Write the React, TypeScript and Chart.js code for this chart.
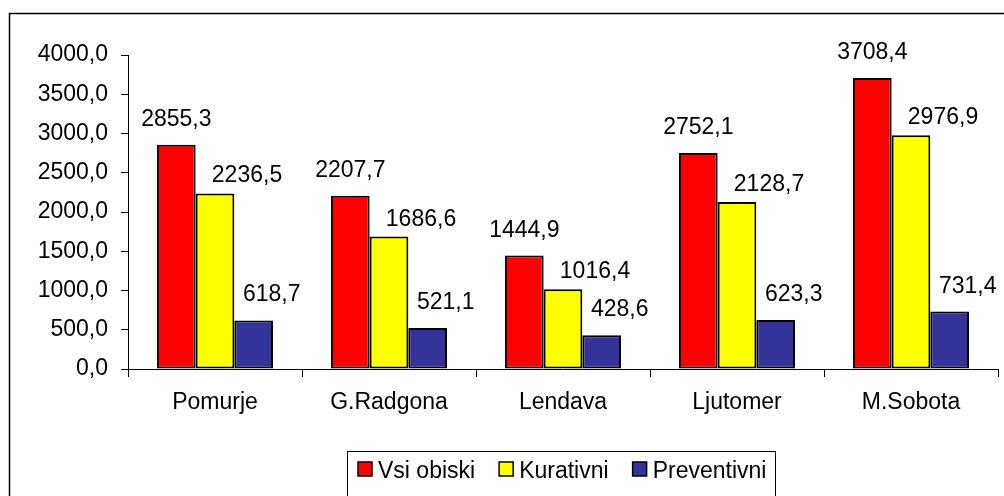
import React, { useEffect, useRef } from "react";
import { Chart, registerables } from "chart.js";

Chart.register(...registerables);

const categories = ["Pomurje", "G.Radgona", "Lendava", "Ljutomer", "M.Sobota"];
const seriesNames = ["Vsi obiski", "Kurativni", "Preventivni"];
const vsiObiski = [2855.3, 2207.7, 1444.9, 2752.1, 3708.4];
const kurativni = [2236.5, 1686.6, 1016.4, 2128.7, 2976.9];
const preventivni = [618.7, 521.1, 428.6, 623.3, 731.4];
const yMin = 0;
const yMax = 4000;
const yStep = 500;

const seriesColors = ["#FF0000", "#FFFF00", "#333399"];
// label offsets relative to the bar top-center (styling, per series)
const labelDx = [0, 32, 18];
const labelDy = [-19, -11, -19];

const FONT = "'Liberation Sans', Arial, sans-serif";
const fmt = (v: number) => v.toFixed(1).replace(".", ",");

const decorPlugin = {
  id: "decor",
  beforeDraw(chart: any) {
    const ctx = chart.ctx;
    ctx.save();
    ctx.fillStyle = "#ffffff";
    ctx.fillRect(0, 0, chart.width, chart.height);
    ctx.strokeStyle = "#000000";
    ctx.lineWidth = 1.5;
    ctx.beginPath();
    ctx.moveTo(9.5, chart.height + 5);
    ctx.lineTo(9.5, 13.5);
    ctx.lineTo(chart.width + 5, 13.5);
    ctx.stroke();
    ctx.restore();
  },
  afterDatasetsDraw(chart: any) {
    const ctx = chart.ctx;
    ctx.save();
    ctx.font = `23px ${FONT}`;
    ctx.fillStyle = "#000000";
    ctx.textAlign = "center";
    ctx.textBaseline = "alphabetic";
    chart.data.datasets.forEach((ds: any, di: number) => {
      const meta = chart.getDatasetMeta(di);
      meta.data.forEach((bar: any, i: number) => {
        ctx.fillText(fmt(ds.data[i]), bar.x + labelDx[di], bar.y + labelDy[di]);
      });
    });
    ctx.restore();
  },
  afterDraw(chart: any) {
    const ctx = chart.ctx;
    ctx.save();
    // legend
    const lx = 347.5, ly = 451.5, lw = 428, lh = 50;
    ctx.strokeStyle = "#000000";
    ctx.lineWidth = 1;
    ctx.strokeRect(lx, ly, lw, lh);
    ctx.font = `23px ${FONT}`;
    ctx.textBaseline = "alphabetic";
    ctx.textAlign = "left";
    let x = 358;
    chart.data.datasets.forEach((ds: any, di: number) => {
      ctx.fillStyle = ds.backgroundColor;
      ctx.fillRect(x, 462, 14, 14);
      ctx.strokeStyle = "#000000";
      ctx.lineWidth = 1.5;
      ctx.strokeRect(x, 462, 14, 14);
      ctx.fillStyle = "#000000";
      ctx.fillText(ds.label, x + 20, 478);
      x += 20 + ctx.measureText(ds.label).width + 24;
    });
    ctx.restore();
  },
};

export default function App() {
  const ref = useRef<HTMLCanvasElement | null>(null);
  useEffect(() => {
    if (!ref.current) return;
    const seriesData = [vsiObiski, kurativni, preventivni];
    const chart = new Chart(ref.current, {
      type: "bar",
      data: {
        labels: categories,
        datasets: seriesNames.map((name, i) => ({
          label: name,
          data: seriesData[i],
          backgroundColor: seriesColors[i],
          borderColor: "#000000",
          borderWidth: 2,
          borderSkipped: false,
          categoryPercentage: 0.667,
          barPercentage: 1,
        })),
      },
      options: {
        animation: false,
        responsive: false,
        maintainAspectRatio: false,
        layout: { padding: { top: 55, right: 6, bottom: 67, left: 0 } },
        plugins: {
          legend: { display: false },
          tooltip: { enabled: false },
          title: { display: false },
        },
        scales: {
          x: {
            offset: true,
            grid: {
              offset: true,
              drawOnChartArea: false,
              drawTicks: true,
              tickLength: 8,
              color: "#000000",
            },
            border: { display: true, color: "#000000", width: 1 },
            ticks: {
              color: "#000000",
              font: { family: FONT, size: 23 },
              padding: 12,
              maxRotation: 0,
            },
            afterFit: (scale: any) => {
              scale.height = 60;
            },
          },
          y: {
            min: yMin,
            max: yMax,
            grid: {
              drawOnChartArea: false,
              drawTicks: true,
              tickLength: 7,
              color: "#000000",
            },
            border: { display: true, color: "#000000", width: 1 },
            ticks: {
              stepSize: yStep,
              color: "#000000",
              font: { family: FONT, size: 23 },
              padding: 13,
              callback: (v: any) => fmt(Number(v)),
            },
            afterFit: (scale: any) => {
              scale.width = 128;
            },
          },
        },
      },
      plugins: [decorPlugin],
    });
    return () => chart.destroy();
  }, []);
  return (
    <div style={{ position: "fixed", left: 0, top: 0, width: 1004, height: 496, background: "#fff" }}>
      <canvas ref={ref} width={1004} height={496} style={{ display: "block" }} />
    </div>
  );
}
